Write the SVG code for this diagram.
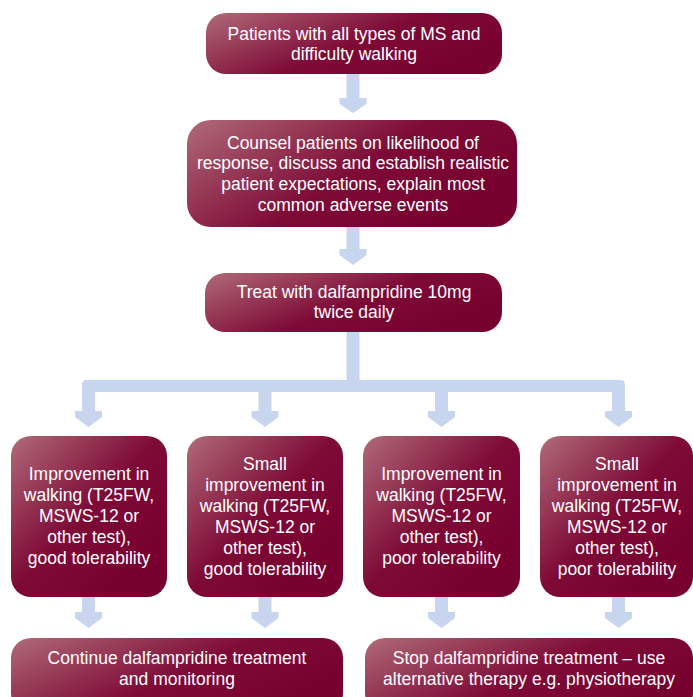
<svg xmlns="http://www.w3.org/2000/svg" width="693" height="697" viewBox="0 0 693 697">
<defs>
<linearGradient id="gw" x1="0" y1="0" x2="1" y2="0.5">
<stop offset="0" stop-color="#b06b79"/>
<stop offset="0.6" stop-color="#7e0a36"/>
<stop offset="1" stop-color="#780030"/>
</linearGradient>
<linearGradient id="gt" x1="0" y1="0" x2="0.8" y2="0.8">
<stop offset="0" stop-color="#b06b79"/>
<stop offset="0.6" stop-color="#7e0a36"/>
<stop offset="1" stop-color="#780030"/>
</linearGradient>
<style>
.w{fill:url(#gw)}
.t{fill:url(#gt)}
.c{fill:#c7d5ee}
text{font-family:"Liberation Sans",Arial,sans-serif;font-size:17.5px;fill:#ffffff;text-anchor:middle}
</style>
</defs>
<rect width="693" height="697" fill="#ffffff"/>
<g id="connectors" class="c">
<path d="M346.5,73 H359.5 V98 H366.5 V104 L353,113 L339.5,104 V98 H346.5 Z"/>
<path d="M346.5,226 H359.5 V249 H366.5 V255 L353,265 L339.5,255 V249 H346.5 Z"/>
<rect x="346.5" y="331" width="13" height="55"/>
<path d="M82,392 V385 Q82,380 87,380 H620 Q625,380 625,385 V392 Z"/>
<path d="M82,386 H95 V411 H102 V417 L88.5,427 L75,417 V411 H82 Z"/>
<path d="M258.5,386 H271.5 V411 H278.5 V417 L265,427 L251.5,417 V411 H258.5 Z"/>
<path d="M435,386 H448 V411 H455 V417 L441.5,427 L428,417 V411 H435 Z"/>
<path d="M612,386 H625 V411 H632 V417 L618.5,427 L605,417 V411 H612 Z"/>
<path d="M82,596 H95 V612 H102 V618 L88.5,628 L75,618 V612 H82 Z"/>
<path d="M258.5,596 H271.5 V612 H278.5 V618 L265,628 L251.5,618 V612 H258.5 Z"/>
<path d="M435,596 H448 V612 H455 V618 L441.5,628 L428,618 V612 H435 Z"/>
<path d="M612,596 H625 V612 H632 V618 L618.5,628 L605,618 V612 H612 Z"/>
</g>
<g id="n1">
<rect class="w" x="206" y="13" width="296" height="61" rx="20"/>
<text x="354" y="39.5">Patients with all types of MS and</text>
<text x="354" y="59.5">difficulty walking</text>
</g>
<g id="n2">
<rect class="w" x="187" y="120" width="330" height="107" rx="24"/>
<text x="353" y="148.5">Counsel patients on likelihood of</text>
<text x="353" y="168.5">response, discuss and establish realistic</text>
<text x="353" y="189.5">patient expectations, explain most</text>
<text x="353" y="210.5">common adverse events</text>
</g>
<g id="n3">
<rect class="w" x="205" y="273" width="297" height="59" rx="20"/>
<text x="354" y="297.5">Treat with dalfampridine 10mg</text>
<text x="354" y="317.5">twice daily</text>
</g>
<g id="n4">
<rect class="t" x="11" y="436" width="156" height="161" rx="20"/>
<text x="89" y="479.5">Improvement in</text>
<text x="89" y="500.5">walking (T25FW,</text>
<text x="89" y="521.5">MSWS-12 or</text>
<text x="89" y="542.5">other test),</text>
<text x="89" y="563.5">good tolerability</text>
</g>
<g id="n5">
<rect class="t" x="187" y="436" width="156" height="161" rx="20"/>
<text x="265" y="469.5">Small</text>
<text x="265" y="490.5">improvement in</text>
<text x="265" y="511.5">walking (T25FW,</text>
<text x="265" y="532.5">MSWS-12 or</text>
<text x="265" y="553.5">other test),</text>
<text x="265" y="574.5">good tolerability</text>
</g>
<g id="n6">
<rect class="t" x="363" y="436" width="157" height="161" rx="20"/>
<text x="441.5" y="479.5">Improvement in</text>
<text x="441.5" y="500.5">walking (T25FW,</text>
<text x="441.5" y="521.5">MSWS-12 or</text>
<text x="441.5" y="542.5">other test),</text>
<text x="441.5" y="563.5">poor tolerability</text>
</g>
<g id="n7">
<rect class="t" x="540" y="436" width="153" height="161" rx="20"/>
<text x="617" y="469.5">Small</text>
<text x="617" y="490.5">improvement in</text>
<text x="617" y="511.5">walking (T25FW,</text>
<text x="617" y="532.5">MSWS-12 or</text>
<text x="617" y="553.5">other test),</text>
<text x="617" y="574.5">poor tolerability</text>
</g>
<g id="n8">
<rect class="w" x="11" y="638" width="332" height="75" rx="20"/>
<text x="177" y="663.5">Continue dalfampridine treatment</text>
<text x="177" y="684.5">and monitoring</text>
</g>
<g id="n9">
<rect class="w" x="365" y="638" width="328" height="75" rx="20"/>
<text x="529" y="663.5">Stop dalfampridine treatment – use</text>
<text x="529" y="684.5">alternative therapy e.g. physiotherapy</text>
</g>
</svg>
